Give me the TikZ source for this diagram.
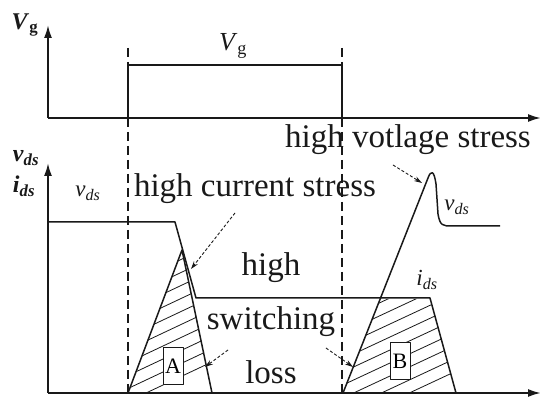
\documentclass[tikz,border=0pt]{standalone}
\usepackage{fontspec}
\setmainfont{Liberation Serif}
\usetikzlibrary{arrows.meta, positioning, calc}
\definecolor{WaveInk}{RGB}{25, 25, 25}

\begin{document}
\begin{tikzpicture}[x=1pt, y=-1pt, line join=round,
    axis/.style={draw=WaveInk, line width=2pt, -{Latex[length=13pt, width=8pt]}},
    wave/.style={draw=WaveInk, line width=1.5pt},
    guide/.style={draw=WaveInk, line width=1.1pt, dash pattern=on 9pt off 5pt},
    hatch/.style={draw=WaveInk, line width=0.8pt},
    hint/.style={draw=WaveInk, line width=0.9pt, dash pattern=on 3pt off 2pt, -{Stealth[length=8pt, width=5pt]}},
    bigtext/.style={font=\fontsize{33}{54}\selectfont, text=WaveInk, inner sep=0pt},
    sigtext/.style={font=\fontsize{23}{25}\selectfont, text=WaveInk, inner sep=0pt},
    axtext/.style={font=\fontsize{24}{26}\selectfont\bfseries, text=WaveInk, inner sep=0pt},
    areabox/.style={draw=WaveInk, line width=0.9pt, fill=white, minimum width=20pt, minimum height=37pt, inner sep=0pt, font=\fontsize{22}{24}\selectfont}]
  \useasboundingbox (0,0) rectangle (542,403);

  % axes
  \coordinate (gateO) at (48,118);
  \coordinate (mainO) at (48,393);
  \draw[axis] (gateO) -- (48,25);
  \draw[axis] (gateO) -- (541,118);
  \draw[axis] (mainO) -- (48,163);
  \draw[axis] (mainO) -- (541,393);

  % switching instants
  \draw[guide] (128,48) -- (128,393);
  \draw[guide] (342,48) -- (342,393);

  % gate pulse
  \draw[wave] (128,118) -- (128,65) -- (342,65) -- (342,118);

  % hatched loss areas
  \begin{scope}
    \clip (128,393) -- (182,250) -- (212,393) -- cycle;
    \foreach \k in {0,...,16}
      \draw[hatch] (110,410-13*\k) -- ++(140,-66);
  \end{scope}
  \begin{scope}
    \clip (343,393) -- (380,299) -- (430,299) -- (456,393) -- cycle;
    \foreach \k in {0,...,14}
      \draw[hatch] (330,430-13*\k) -- ++(150,-70);
  \end{scope}
  \draw[wave] (128,393) -- (182,250) -- (212,393);
  \draw[wave] (48,222) -- (175,222) -- (196,298) -- (430,298) -- (456,393);
  \draw[wave] (343,393) -- (428,178) .. controls (431,170) and (434,170) .. (436,184)
    -- (438,214) .. controls (440,226) and (443,226) .. (452,226) -- (500,226);

  \node[areabox] (boxA) at (173,366) {A};
  \node[areabox] (boxB) at (400,361) {B};

  % labels
  \node[axtext] (gateAx) at (25,25) {\textit{V}\textsubscript{g}};
  \node[axtext] (vdsAx) at (26,158) {\textit{v}\textsubscript{\textit{ds}}};
  \node[axtext] (idsAx) at (24,186) {\textit{i}\textsubscript{\textit{ds}}};
  \node[sigtext, font=\fontsize{26}{28}\selectfont] (gateLbl) at (233,46) {\textit{V}\textsubscript{g}};
  \node[sigtext] (vdsLeft) at (88,193) {\textit{v}\textsubscript{\textit{ds}}};
  \node[sigtext] (vdsRight) at (457,207) {\textit{v}\textsubscript{\textit{ds}}};
  \node[sigtext] (idsRight) at (427,280) {\textit{i}\textsubscript{\textit{ds}}};

  \node[bigtext] (currLbl) at (255,189) {high current stress};
  \node[bigtext] (voltLbl) at (408,140) {high votlage stress};
  \node[bigtext, align=center] (lossLbl) at (271,318) {high\\switching\\loss};

  % pointers
  \coordinate (currTail) at (235,213);
  \coordinate (currTip) at (191,269);
  \coordinate (voltTail) at (393,165);
  \coordinate (voltTip) at (422,183);
  \coordinate (lossTailA) at (228,350);
  \coordinate (lossTipA) at (205,367);
  \coordinate (lossTailB) at (326,348);
  \coordinate (lossTipB) at (353,367);
  \draw[hint] (currTail) -- (currTip);
  \draw[hint] (voltTail) -- (voltTip);
  \draw[hint] (lossTailA) -- (lossTipA);
  \draw[hint] (lossTailB) -- (lossTipB);
\end{tikzpicture}
\end{document}
